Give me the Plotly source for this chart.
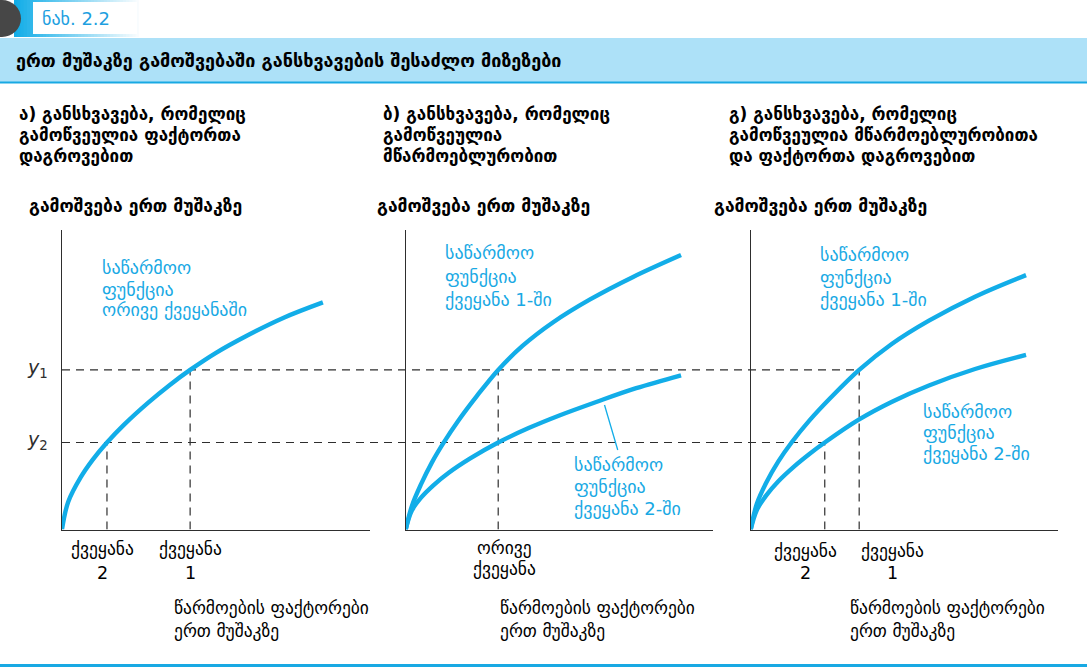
import plotly.graph_objects as go

W, H = 1087, 668

# ---------------- data (arbitrary units 0-10) ----------------
# panel a: one production function for both countries
a_x = [0, 0.2, 0.6, 1.0, 1.46, 2.0, 2.8, 3.5, 4.16, 5.0, 6.0, 7.2, 8.47]
a_y = [0, 0.92, 1.73, 2.33, 2.90, 3.48, 4.23, 4.82, 5.32, 5.89, 6.46, 7.06, 7.57]
a_country2_x = 1.46
a_country1_x = 4.16

# panel b: productivity difference
b1_x = [0, 0.2, 0.5, 0.85, 1.22, 1.7, 2.3, 3.01, 3.8, 4.8, 6.0, 7.4, 8.96]
b1_y = [0, 0.78, 1.51, 2.23, 2.87, 3.61, 4.43, 5.32, 6.12, 6.91, 7.67, 8.42, 9.15]
b2_x = [0, 0.2, 0.5, 0.9, 1.4, 2.1, 3.01, 4.0, 5.0, 6.2, 7.5, 8.96]
b2_y = [0, 0.63, 1.06, 1.47, 1.89, 2.37, 2.90, 3.38, 3.80, 4.25, 4.71, 5.14]
b_both_x = 3.01

# panel c: productivity and factor accumulation
c1_x = [0, 0.2, 0.5, 0.9, 1.33, 1.9, 2.6, 3.53, 4.6, 5.8, 7.3, 8.96]
c1_y = [0, 0.86, 1.55, 2.27, 2.90, 3.62, 4.39, 5.32, 6.19, 6.96, 7.76, 8.48]
c2_x = [0, 0.2, 0.5, 0.9, 1.4, 1.9, 2.41, 3.53, 4.6, 5.8, 7.3, 8.96]
c2_y = [0, 0.65, 1.13, 1.61, 2.09, 2.51, 2.90, 3.67, 4.26, 4.80, 5.35, 5.82]
c_country2_x = 2.41
c_country1_x = 3.53

y1 = 5.32
y2 = 2.90

# ---------------- texts ----------------
fig_label = "ნახ. 2.2"
title = "ერთ მუშაკზე გამოშვებაში განსხვავების შესაძლო მიზეზები"
subtitles = [
    ["ა) განსხვავება, რომელიც", "გამოწვეულია ფაქტორთა", "დაგროვებით"],
    ["ბ) განსხვავება, რომელიც", "გამოწვეულია", "მწარმოებლურობით"],
    ["გ) განსხვავება, რომელიც", "გამოწვეულია მწარმოებლურობითა", "და ფაქტორთა დაგროვებით"],
]
y_title = "გამოშვება ერთ მუშაკზე"
x_title = ["წარმოების ფაქტორები", "ერთ მუშაკზე"]
pf_both = ["საწარმოო", "ფუნქცია", "ორივე ქვეყანაში"]
pf_1 = ["საწარმოო", "ფუნქცია", "ქვეყანა 1-ში"]
pf_2 = ["საწარმოო", "ფუნქცია", "ქვეყანა 2-ში"]
country1 = ["ქვეყანა", "1"]
country2 = ["ქვეყანა", "2"]
both_countries = ["ორივე", "ქვეყანა"]

# ---------------- styling ----------------
BLUE = "#12ade8"
TXTBLUE = "#19a9e4"
DARK = "#2e2e2e"
FONT = "DejaVu Sans"

def px(x):
    return x / W

def py(y):
    return 1 - y / H

dom_y = [py(529.5), py(229.5)]
dom_x = {"a": [px(62), px(370)], "b": [px(405.7), px(713)], "c": [px(750.7), px(1058)]}
RANGE = [0, 10]

def to_paper_x(panel, v):
    d = dom_x[panel]
    return d[0] + (v - RANGE[0]) / (RANGE[1] - RANGE[0]) * (d[1] - d[0])

fig = go.Figure()

axes = {"a": ("x", "y"), "b": ("x2", "y2"), "c": ("x3", "y3")}

def curve(panel, xs, ys):
    xa, ya = axes[panel]
    fig.add_trace(go.Scatter(x=xs, y=ys, mode="lines", xaxis=xa, yaxis=ya,
                             line=dict(color=BLUE, width=4.4, shape="spline", smoothing=1.0),
                             hoverinfo="skip", showlegend=False))

curve("a", a_x, a_y)
curve("b", b1_x, b1_y)
curve("b", b2_x, b2_y)
curve("c", c1_x, c1_y)
curve("c", c2_x, c2_y)

axis_common = dict(range=RANGE, showgrid=False, zeroline=False, showticklabels=False,
                   ticks="", showline=True, linecolor=DARK, linewidth=1.4, fixedrange=True)
layout_axes = {}
for i, p in enumerate(["a", "b", "c"]):
    sfx = "" if i == 0 else str(i + 1)
    layout_axes["xaxis" + sfx] = dict(domain=dom_x[p], anchor="y" + sfx, **axis_common)
    layout_axes["yaxis" + sfx] = dict(domain=dom_y, anchor="x" + sfx, **axis_common)

shapes = []
DASH = dict(color=DARK, width=1.2, dash="8px,6px")

# long horizontal dashed guides (start at panel a axis, end at panel c intersections)
shapes.append(dict(type="line", xref="paper", yref="y", x0=dom_x["a"][0], x1=to_paper_x("c", c_country1_x),
                   y0=y1, y1=y1, line=DASH, layer="below"))
shapes.append(dict(type="line", xref="paper", yref="y", x0=dom_x["a"][0], x1=to_paper_x("c", c_country2_x),
                   y0=y2, y1=y2, line=DASH, layer="below"))
# vertical dashed guides
for xr, yr, xv, top in [("x", "y", a_country2_x, y2), ("x", "y", a_country1_x, y1),
                        ("x2", "y2", b_both_x, y1),
                        ("x3", "y3", c_country2_x, y2), ("x3", "y3", c_country1_x, y1)]:
    shapes.append(dict(type="line", xref=xr, yref=yr, x0=xv, x1=xv, y0=0, y1=top, line=DASH, layer="below"))

# pointer line in panel b
shapes.append(dict(type="line", xref="x2", yref="y2", x0=6.47, y0=4.15, x1=6.9, y1=2.65,
                   line=dict(color=BLUE, width=1.3)))

# ---- header decorations ----
n = 40
for k in range(n):
    t = k / (n - 1)
    r = int(0x12 + (255 - 0x12) * t)
    g = int(0xad + (255 - 0xad) * t)
    b = int(0xe8 + (255 - 0xe8) * t)
    x0 = 14 + k * 3.2
    shapes.append(dict(type="rect", xref="paper", yref="paper", x0=px(x0), x1=px(x0 + 4.5),
                       y0=py(37), y1=py(0), line=dict(width=0), fillcolor=f"rgb({r},{g},{b})", layer="above"))
shapes.append(dict(type="circle", xref="paper", yref="paper", x0=px(-17), x1=px(21), y0=py(37), y1=py(0),
                   line=dict(width=0), fillcolor="#474747", layer="above"))
shapes.append(dict(type="rect", xref="paper", yref="paper", x0=px(33), x1=px(137), y0=py(34), y1=py(2),
                   line=dict(width=0), fillcolor="white", layer="above"))
shapes.append(dict(type="rect", xref="paper", yref="paper", x0=0, x1=1, y0=py(82), y1=py(38),
                   line=dict(width=0), fillcolor="#ade1f8", layer="below"))
shapes.append(dict(type="line", xref="paper", yref="paper", x0=0, x1=1, y0=py(82.5), y1=py(82.5),
                   line=dict(color="#18a9e3", width=2), layer="above"))
shapes.append(dict(type="line", xref="paper", yref="paper", x0=0, x1=1, y0=py(665.5), y1=py(665.5),
                   line=dict(color="#18a9e3", width=3), layer="above"))

annotations = []

def text(x, y, s, size=14, color="black", bold=False, xanchor="left", yanchor="middle"):
    annotations.append(dict(xref="paper", yref="paper", x=px(x), y=py(y), text=s, showarrow=False,
                            xanchor=xanchor, yanchor=yanchor,
                            font=dict(family=FONT, size=size, color=color,
                                      weight="bold" if bold else "normal")))

def block(x, ys, lines, **kw):
    for yy, s in zip(ys, lines):
        text(x, yy, s, **kw)

text(40, 18.5, fig_label, size=18, color="#1e9fe0")
text(14, 60, title, size=18, bold=True)

sub_x = [17, 381, 727]
for sx, lines in zip(sub_x, subtitles):
    block(sx, [114, 135, 156], lines, size=17, bold=True)

for lx in [27, 375, 712]:
    text(lx, 206, y_title, size=17.5, bold=True)

text(50, 368, "<i>y</i><sub>1</sub>", size=19, color=DARK, xanchor="right")
text(50, 440, "<i>y</i><sub>2</sub>", size=19, color=DARK, xanchor="right")

LBL = 18
block(100, [268, 289, 310], pf_both, size=LBL, color=TXTBLUE)
block(443, [253, 276, 299], pf_1, size=LBL, color=TXTBLUE)
block(572, [464, 486, 508], pf_2, size=LBL, color=TXTBLUE)
block(818, [255, 277, 299], pf_1, size=LBL, color=TXTBLUE)
block(921, [411, 432, 453], pf_2, size=LBL, color=TXTBLUE)

AX = 17.5
block(102, [549, 573], country2, size=AX, color="black", xanchor="center")
block(190, [549, 573], country1, size=AX, color="black", xanchor="center")
block(504, [548, 569], both_countries, size=AX, color="black", xanchor="center")
block(805, [551, 573], country2, size=AX, color="black", xanchor="center")
block(892, [551, 573], country1, size=AX, color="black", xanchor="center")

for tx in [172, 498, 848]:
    block(tx, [608, 631], x_title, size=AX, color="black")

fig.update_layout(width=W, height=H, margin=dict(l=0, r=0, t=0, b=0),
                  paper_bgcolor="white", plot_bgcolor="rgba(0,0,0,0)",
                  showlegend=False, shapes=shapes, annotations=annotations, **layout_axes)

fig.write_html("out.html", config={"displayModeBar": False},
               post_script="document.body.style.margin='0px';")
